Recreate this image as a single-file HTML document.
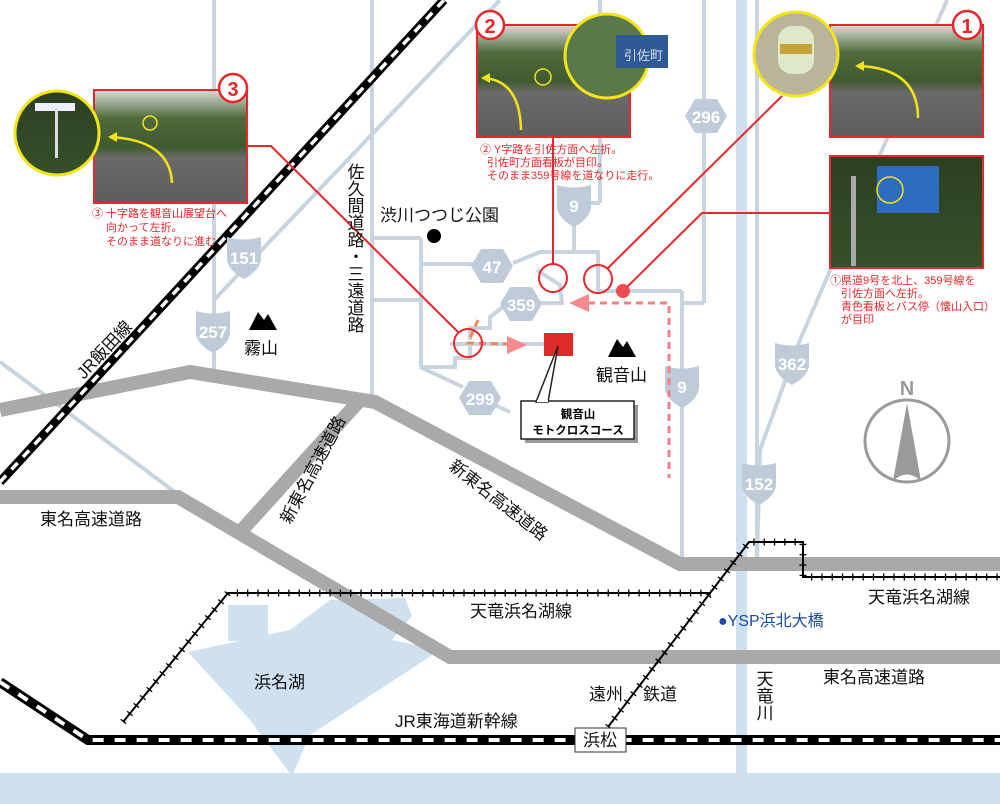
<!DOCTYPE html>
<html><head><meta charset="utf-8"><style>
html,body{margin:0;padding:0;background:#fff;}
svg{display:block;font-family:"Liberation Sans","Noto Sans CJK JP",sans-serif;}
.cap{fill:#e8262b;font-size:11px;}
.lbl{fill:#111;font-size:17px;}
.sh{fill:#bfcbd8;}
.sn{fill:#fff;font-size:17px;font-weight:bold;text-anchor:middle;font-family:"Liberation Sans Narrow","Liberation Sans",sans-serif;}
</style></head><body>
<svg width="1000" height="804" viewBox="0 0 1000 804" xmlns="http://www.w3.org/2000/svg">
<defs>
<linearGradient id="ph" x1="0" y1="0" x2="0" y2="1"><stop offset="0" stop-color="#dcdcd8"/><stop offset="0.25" stop-color="#4f6a3c"/><stop offset="0.5" stop-color="#3f5a30"/><stop offset="0.6" stop-color="#6a6a68"/><stop offset="1" stop-color="#5d5d5e"/></linearGradient>
<linearGradient id="fo" x1="0" y1="0" x2="0" y2="1"><stop offset="0" stop-color="#2c4022"/><stop offset="1" stop-color="#35502a"/></linearGradient>
<path id="shield" d="M-17,-19 Q0,-14 17,-19 L17,4 Q15,15 0,23 Q-15,15 -17,4 Z"/>
<polygon id="hex" points="-21,0 -11,-17 11,-17 21,0 11,17 -11,17"/>
</defs>

<!-- water -->
<rect x="0" y="773" width="1000" height="31" fill="#cfe0ee"/>
<rect x="736" y="0" width="11" height="775" fill="#cfe0ee"/>
<polygon points="188,652 290,630 330,600 405,598 412,616 392,640 440,650 310,735 292,776 250,720" fill="#cfe0ee"/>
<rect x="228" y="605" width="40" height="36" fill="#cfe0ee"/>

<!-- thin roads -->
<g stroke="#c8d4e0" stroke-width="4" fill="none">
<line x1="214" y1="0" x2="214" y2="372"/>
<line x1="372" y1="0" x2="372" y2="395"/>
<line x1="500" y1="0" x2="214" y2="300"/>
<line x1="0" y1="362" x2="175" y2="492"/>
<line x1="947" y1="0" x2="800" y2="340"/>
<polyline points="800,340 760,450 757,560"/>
<line x1="757" y1="0" x2="757" y2="560"/>
<line x1="704" y1="0" x2="704" y2="303"/>
<line x1="682" y1="303" x2="704" y2="303"/>
<line x1="682" y1="291" x2="682" y2="563"/>
<line x1="598" y1="291" x2="682" y2="291"/>
<line x1="600" y1="0" x2="600" y2="203"/>
<line x1="575" y1="203" x2="600" y2="203"/>
<line x1="574" y1="203" x2="574" y2="252"/>
<polyline points="513,263 540,252 598,252 598,291"/>
<polyline points="537,270 560,285 562,303 540,303"/>
<line x1="421" y1="238" x2="421" y2="367"/>
<line x1="372" y1="238" x2="421" y2="238"/>
<line x1="421" y1="264" x2="477" y2="264"/>
<polyline points="503,307 490,317 490,328 470,328 470,340"/>
<line x1="450" y1="344" x2="544" y2="344"/>
<polyline points="421,367 455,367 455,358 470,358 470,345"/>
<line x1="420" y1="367" x2="463" y2="387"/>
<line x1="495" y1="405" x2="510" y2="412"/>
<line x1="372" y1="300" x2="421" y2="300"/>
</g>

<!-- highways -->
<g stroke="#a9a9a9" stroke-width="14" fill="none" stroke-linejoin="miter">
<polyline points="0,410 190,372 375,402 680,564 1000,564"/>
<polyline points="0,497 178,497 450,657 1000,657"/>
<line x1="242" y1="530" x2="360" y2="400"/>
</g>

<!-- JR Iida line -->
<line x1="0" y1="482" x2="444" y2="0" stroke="#000" stroke-width="9"/>
<line x1="0" y1="482" x2="444" y2="0" stroke="#fff" stroke-width="3.5" stroke-dasharray="9,8"/>
<!-- Shinkansen -->
<polyline points="0,682 88,740 1000,740" stroke="#000" stroke-width="10" fill="none"/>
<polyline points="0,682 88,740 1000,740" stroke="#fff" stroke-width="4" fill="none" stroke-dasharray="11,11"/>

<!-- tracks -->
<g stroke="#000" fill="none">
<polyline points="123,722 228,593 711,593" stroke-width="2"/>
<polyline points="123,722 228,593 711,593" stroke-width="7" stroke-dasharray="1.3,9"/>
<polyline points="608,727 749,542 803,542 803,577 1000,577" stroke-width="2"/>
<polyline points="608,727 749,542 803,542 803,577 1000,577" stroke-width="7" stroke-dasharray="1.3,9"/>
</g>

<!-- shields -->
<g>
<use href="#shield" x="244" y="256" class="sh"/><text class="sn" x="244" y="264">151</text>
<use href="#shield" x="213" y="330" class="sh"/><text class="sn" x="213" y="338">257</text>
<use href="#shield" x="574" y="204" class="sh"/><text class="sn" x="574" y="212">9</text>
<use href="#shield" x="682" y="385" class="sh"/><text class="sn" x="682" y="393">9</text>
<use href="#shield" x="792" y="362" class="sh"/><text class="sn" x="792" y="370">362</text>
<use href="#shield" x="759" y="482" class="sh"/><text class="sn" x="759" y="490">152</text>
<use href="#hex" x="706" y="116" class="sh"/><text class="sn" x="706" y="123">296</text>
<use href="#hex" x="492" y="266" class="sh"/><text class="sn" x="492" y="273">47</text>
<use href="#hex" x="521" y="304" class="sh"/><text class="sn" x="521" y="311">359</text>
<use href="#hex" x="480" y="398" class="sh"/><text class="sn" x="480" y="405">299</text>
</g>

<!-- routes -->
<polyline points="588,303 669,303 669,478" stroke="#f28088" stroke-width="3" fill="none" stroke-dasharray="7,5"/>
<polygon points="569,303 589,294 589,312" fill="#f48a8f"/>
<polyline points="478,320 468,343 510,344" stroke="#e98a5c" stroke-width="3" fill="none" stroke-dasharray="7,5"/>
<polygon points="527,345 507,336 507,354" fill="#f48a8f"/>

<!-- red pointer lines and circles -->
<g stroke="#e8262b" stroke-width="2" fill="none">
<polyline points="247,146 271,146 458,332"/>
<line x1="553" y1="137" x2="553" y2="264"/>
<line x1="608" y1="268" x2="782" y2="96"/>
<polyline points="627,287 702,213 830,213"/>
<circle cx="468" cy="343" r="14"/>
<circle cx="553" cy="278" r="14"/>
<circle cx="598" cy="279" r="14"/>
</g>
<circle cx="623" cy="291" r="7" fill="#ee4a4f"/>

<!-- destination -->
<rect x="544" y="333" width="29" height="23" fill="#e02a2a"/>
<rect x="525" y="405" width="113" height="38" fill="#999"/>
<rect x="521" y="401" width="113" height="38" fill="#fff" stroke="#222" stroke-width="1.5"/>
<polygon points="536,402 558,346 548,402" fill="#fff" stroke="#222" stroke-width="1.5"/>
<line x1="537" y1="401" x2="548" y2="401" stroke="#fff" stroke-width="2"/>
<text x="578" y="418" font-size="11.5" font-weight="bold" text-anchor="middle">観音山</text>
<text x="578" y="434" font-size="11.5" font-weight="bold" text-anchor="middle">モトクロスコース</text>

<!-- mountains -->
<polygon points="249,330 258,312 264,320 268,314 277,330" fill="#000"/>
<polygon points="608,357 617,339 623,347 627,341 636,357" fill="#000"/>

<!-- labels -->
<circle cx="434" cy="236" r="7" fill="#000"/>
<text class="lbl" x="380" y="221">渋川つつじ公園</text>
<text class="lbl" x="244" y="354" font-size="18">霧山</text>
<text class="lbl" x="596" y="381" font-size="18">観音山</text>
<text class="lbl" x="354" y="163" font-size="18" style="writing-mode:vertical-rl;">佐久間道路・三遠道路</text>
<text class="lbl" x="0" y="0" font-size="17" transform="translate(84,380) rotate(-47)">JR飯田線</text>
<text class="lbl" x="0" y="0" font-size="16" transform="translate(290,525) rotate(-62)">新東名高速道路</text>
<text class="lbl" x="0" y="0" font-size="16" transform="translate(448,468) rotate(38)">新東名高速道路</text>
<text class="lbl" x="40" y="525" font-size="16">東名高速道路</text>
<text class="lbl" x="470" y="617" font-size="16">天竜浜名湖線</text>
<text class="lbl" x="868" y="603" font-size="16">天竜浜名湖線</text>
<text x="718" y="626" font-size="16" fill="#1a4aa8">●YSP浜北大橋</text>
<text class="lbl" x="254" y="688" font-size="16">浜名湖</text>
<text class="lbl" x="589" y="700" font-size="16">遠州</text>
<text class="lbl" x="643" y="700" font-size="16">鉄道</text>
<text class="lbl" x="823" y="683" font-size="16">東名高速道路</text>
<text class="lbl" x="395" y="727" font-size="16">JR東海道新幹線</text>
<text class="lbl" x="763" y="670" font-size="16" style="writing-mode:vertical-rl;">天竜川</text>
<rect x="575" y="728" width="51" height="24" fill="#fff" stroke="#333" stroke-width="1"/>
<text class="lbl" x="583" y="746" font-size="16">浜松</text>

<!-- compass -->
<ellipse cx="907" cy="441" rx="42" ry="41" fill="none" stroke="#9a9a9a" stroke-width="3"/>
<path d="M907,403 L921,481 Q907,468 893,481 Z" fill="#9a9a9a"/>
<text x="907" y="395" font-size="20" font-weight="bold" fill="#9a9a9a" text-anchor="middle">N</text>

<!-- photo 3 -->
<rect x="94" y="90" width="153" height="113" fill="url(#ph)" stroke="#e8262b" stroke-width="2"/>
<path d="M172,183 Q170,140 110,137" stroke="#f3e21b" stroke-width="2.5" fill="none"/>
<polygon points="108,137 117,132 117,142" fill="#f3e21b"/>
<circle cx="150" cy="123" r="7" fill="none" stroke="#f3e21b" stroke-width="1.5"/>
<circle cx="57" cy="133" r="42" fill="url(#fo)" stroke="#f4e41c" stroke-width="3"/>
<rect x="35" y="103" width="40" height="8" fill="#eef"/>
<rect x="55" y="108" width="3" height="50" fill="#ddd"/>
<circle cx="233" cy="88" r="14" fill="#fff" stroke="#e8262b" stroke-width="2.5"/>
<text x="233" y="96" font-size="20" font-weight="bold" fill="#e8262b" text-anchor="middle">3</text>
<text class="cap" x="92" y="217">③ 十字路を観音山展望台へ</text>
<text class="cap" x="106" y="231">向かって左折。</text>
<text class="cap" x="106" y="245">そのまま道なりに進む</text>

<!-- photo 2 -->
<rect x="477" y="25" width="153" height="112" fill="url(#ph)" stroke="#e8262b" stroke-width="2"/>
<path d="M521,130 Q520,80 483,78" stroke="#f3e21b" stroke-width="2.5" fill="none"/>
<polygon points="481,78 490,73 490,83" fill="#f3e21b"/>
<circle cx="543" cy="77" r="8" fill="none" stroke="#f3e21b" stroke-width="1.5"/>
<circle cx="607" cy="56" r="42" fill="#5a7848" stroke="#f4e41c" stroke-width="3"/>
<rect x="616" y="35" width="52" height="33" fill="#2e5a9a"/>
<text x="624" y="60" font-size="13" fill="#ddd">引佐町</text>
<circle cx="490" cy="25" r="14" fill="#fff" stroke="#e8262b" stroke-width="2.5"/>
<text x="490" y="33" font-size="20" font-weight="bold" fill="#e8262b" text-anchor="middle">2</text>
<text class="cap" x="480" y="153">② Y字路を引佐方面へ左折。</text>
<text class="cap" x="487" y="166">引佐町方面看板が目印。</text>
<text class="cap" x="487" y="179">そのまま359号線を道なりに走行。</text>

<!-- photo 1 -->
<rect x="830" y="25" width="153" height="112" fill="url(#ph)" stroke="#e8262b" stroke-width="2"/>
<path d="M918,118 Q918,68 858,66" stroke="#f3e21b" stroke-width="2.5" fill="none"/>
<polygon points="855,66 864,61 864,71" fill="#f3e21b"/>
<circle cx="796" cy="54" r="42" fill="#b9b49a" stroke="#f4e41c" stroke-width="3"/>
<rect x="778" y="26" width="36" height="48" rx="14" fill="#dfe8c8"/>
<rect x="780" y="44" width="32" height="10" fill="#c8a23a"/>
<circle cx="967" cy="25" r="14" fill="#fff" stroke="#e8262b" stroke-width="2.5"/>
<text x="967" y="33" font-size="20" font-weight="bold" fill="#e8262b" text-anchor="middle">1</text>
<rect x="830" y="156" width="153" height="112" fill="url(#fo)" stroke="#e8262b" stroke-width="2"/>
<rect x="877" y="166" width="62" height="47" fill="#2d6cbf"/>
<circle cx="890" cy="190" r="13" fill="none" stroke="#f3e21b" stroke-width="1.5"/>
<rect x="851" y="176" width="5" height="90" fill="#aaa"/>
<text class="cap" x="830" y="284">①県道9号を北上、359号線を</text>
<text class="cap" x="841" y="297">引佐方面へ左折。</text>
<text class="cap" x="841" y="310">青色看板とバス停（懐山入口）</text>
<text class="cap" x="841" y="323">が目印</text>
</svg>
</body></html>
